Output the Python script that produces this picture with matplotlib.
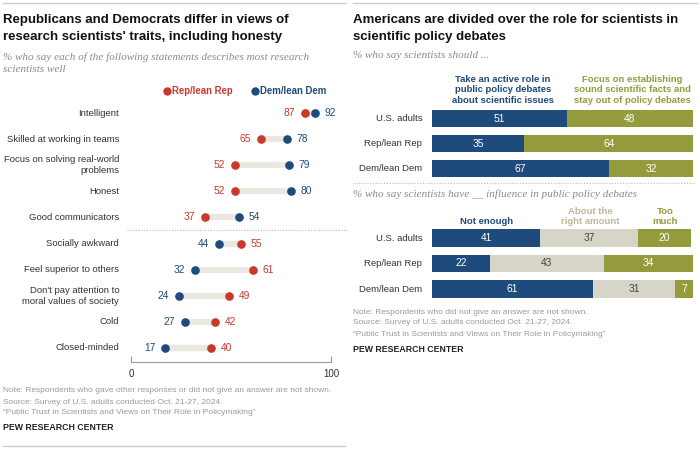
import matplotlib
matplotlib.use("Agg")
import matplotlib.pyplot as plt
from matplotlib.lines import Line2D

# --- DATA ---
traits = ["Intelligent", "Skilled at working in teams", "Focus on solving real-world\nproblems",
          "Honest", "Good communicators", "Socially awkward", "Feel superior to others",
          "Don't pay attention to\nmoral values of society", "Cold", "Closed-minded"]
rep_traits = [87, 65, 52, 52, 37, 55, 61, 49, 42, 40]
dem_traits = [92, 78, 79, 80, 54, 44, 32, 24, 27, 17]

groups = ["U.S. adults", "Rep/lean Rep", "Dem/lean Dem"]
active_role = [51, 35, 67]
stay_out = [48, 64, 32]

not_enough = [41, 22, 61]
right_amount = [37, 43, 31]
too_much = [20, 34, 7]

# --- COLORS ---
BLUE = "#1f4a7c"
RED = "#c8392b"
OLIVE = "#949b3c"
BEIGE = "#d7d5c7"
BEIGE_TXT = "#bdb89c"
LINE = "#ebe8e1"
GRAY = "#8a8a8a"
DARK = "#333333"

SANS = ["Liberation Sans", "DejaVu Sans"]
SERIF = ["Liberation Serif", "DejaVu Serif"]
plt.rcParams["font.family"] = SANS

W, H = 700, 449
fig = plt.figure(figsize=(7, 4.49), dpi=100)


def px(x, y):
    return x / W, 1 - y / H


def txt(x, y, s, **kw):
    kw.setdefault("va", "center")
    kw.setdefault("color", DARK)
    fig.text(*px(x, y), s, **kw)


def hline(x0, x1, y, **kw):
    (fx0, fy), (fx1, _) = px(x0, y), px(x1, y)
    fig.add_artist(Line2D([fx0, fx1], [fy, fy], transform=fig.transFigure, **kw))


def add_ax(x0, y0, x1, y1):
    ax = fig.add_axes([x0 / W, 1 - y1 / H, (x1 - x0) / W, (y1 - y0) / H])
    ax.axis("off")
    return ax


TITLE = dict(fontsize=9.5, fontweight="bold", color="#111111")
SUB = dict(fontsize=8.0, style="italic", color=GRAY, family=SERIF)
NOTE = dict(fontsize=6.0, color="#9a9a9a")
LAB = dict(fontsize=6.8, color=DARK)
HEAD = dict(fontsize=6.8, fontweight="bold", ha="center", linespacing=1.25)
NUM = 7.4

# ===== LEFT PANEL =====
hline(3, 345, 3, color="#cccccc", lw=1)
hline(3, 345, 446, color="#cccccc", lw=1)
txt(3, 20, "Republicans and Democrats differ in views of", **TITLE)
txt(3, 37, "research scientists' traits, including honesty", **TITLE)
txt(3, 57, "% who say each of the following statements describes most research", **SUB)
txt(3, 70, "scientists well", **SUB)

# legend
fig.add_artist(Line2D([px(167, 91)[0]], [px(167, 91)[1]], transform=fig.transFigure,
                      marker="o", ms=5, color=RED, ls=""))
txt(172, 91, "Rep/lean Rep", fontsize=6.9, fontweight="bold", color=RED)
fig.add_artist(Line2D([px(255, 91)[0]], [px(255, 91)[1]], transform=fig.transFigure,
                      marker="o", ms=5, color=BLUE, ls=""))
txt(260, 91, "Dem/lean Dem", fontsize=6.9, fontweight="bold", color=BLUE)

axd = add_ax(131, 100, 331, 362)
axd.set_xlim(0, 100)
axd.set_ylim(9.54, -0.5)
axd.axis("on")
for s in ["top", "right", "left"]:
    axd.spines[s].set_visible(False)
axd.spines["bottom"].set_color("#999999")
axd.spines["bottom"].set_linewidth(0.8)
axd.set_yticks([])
axd.set_xticks([0, 100])
axd.set_xticklabels(["0", "100"], fontsize=7.0, color=DARK)
axd.tick_params(axis="x", direction="in", length=4, color="#999999", pad=5)
axd.patch.set_visible(False)

for i, (lab, r, d) in enumerate(zip(traits, rep_traits, dem_traits)):
    axd.plot([r, d], [i, i], color=LINE, lw=4.5, solid_capstyle="butt", zorder=1)
    axd.plot(r, i, "o", color=RED, ms=5.2, zorder=3)
    axd.plot(d, i, "o", color=BLUE, ms=5.2, zorder=3)
    lo, hi = (r, d) if r < d else (d, r)
    lo_c = RED if r < d else BLUE
    hi_c = BLUE if r < d else RED
    axd.annotate(str(lo), (lo, i), xytext=(-7, 0), textcoords="offset points",
                 ha="right", va="center", fontsize=NUM, color=lo_c)
    axd.annotate(str(hi), (hi, i), xytext=(7, 0), textcoords="offset points",
                 ha="left", va="center", fontsize=NUM, color=hi_c)
    axd.annotate(lab, (0, i), xycoords=("axes fraction", "data"), xytext=(-8.5, 0),
                 textcoords="offset points", ha="right", va="center",
                 linespacing=1.25, annotation_clip=False, **LAB)
axd.axhline(4.5, xmin=-0.02, xmax=1.08, color="#bbbbbb", lw=0.8, ls=(0, (1, 1.5)), clip_on=False)

txt(3, 390, "Note: Respondents who gave other responses or did not give an answer are not shown.", **NOTE)
txt(3, 402, "Source: Survey of U.S. adults conducted Oct. 21-27, 2024.", **NOTE)
txt(3, 413, "\u201cPublic Trust in Scientists and Views on Their Role in Policymaking\u201d", **NOTE)
txt(3, 428, "PEW RESEARCH CENTER", fontsize=6.3, fontweight="bold", color="#222222")

# ===== RIGHT PANEL =====
hline(353, 697, 3, color="#cccccc", lw=1)
txt(353, 20, "Americans are divided over the role for scientists in", **TITLE)
txt(353, 37, "scientific policy debates", **TITLE)
txt(353, 56, "% who say scientists should ...", **SUB)

txt(503, 90, "Take an active role in\npublic policy debates\nabout scientific issues", color=BLUE, **HEAD)
txt(632, 90, "Focus on establishing\nsound scientific facts and\nstay out of policy debates",
    color=OLIVE, **HEAD)

ax1 = add_ax(432, 106.5, 696, 181.5)
ax1.set_xlim(0, 100)
ax1.set_ylim(2.5, -0.5)
y = range(len(groups))
ax1.barh(y, active_role, height=0.68, color=BLUE)
ax1.barh(y, stay_out, left=active_role, height=0.68, color=OLIVE)
for i, (a, b) in enumerate(zip(active_role, stay_out)):
    ax1.text(a / 2, i, str(a), ha="center", va="center", color="white", fontsize=NUM)
    ax1.text(a + b / 2, i, str(b), ha="center", va="center", color="white", fontsize=NUM)
    ax1.annotate(groups[i], (0, i), xytext=(-7, 0), textcoords="offset points", ha="right",
                 va="center", annotation_clip=False, **LAB)

hline(353, 695, 183, color="#bbbbbb", lw=0.8, ls=(0, (1, 1.5)))
txt(353, 194, "% who say scientists have __ influence in public policy debates", **SUB)

txt(487, 222, "Not enough", color=BLUE, **HEAD)
txt(590, 216.5, "About the\nright amount", color=BEIGE_TXT, **HEAD)
txt(665, 216.5, "Too\nmuch", color=OLIVE, **HEAD)

ax2 = add_ax(432, 225.25, 696, 301.75)
ax2.set_xlim(0, 100)
ax2.set_ylim(2.5, -0.5)
left2 = [a + b for a, b in zip(not_enough, right_amount)]
ax2.barh(y, not_enough, height=0.67, color=BLUE)
ax2.barh(y, right_amount, left=not_enough, height=0.67, color=BEIGE)
ax2.barh(y, too_much, left=left2, height=0.67, color=OLIVE)
for i in y:
    a, b, c = not_enough[i], right_amount[i], too_much[i]
    ax2.text(a / 2, i, str(a), ha="center", va="center", color="white", fontsize=NUM)
    ax2.text(a + b / 2, i, str(b), ha="center", va="center", color="#444444", fontsize=NUM)
    ax2.text(a + b + c / 2, i, str(c), ha="center", va="center", color="white", fontsize=NUM)
    ax2.annotate(groups[i], (0, i), xytext=(-7, 0), textcoords="offset points", ha="right",
                 va="center", annotation_clip=False, **LAB)

txt(353, 312, "Note: Respondents who did not give an answer are not shown.", **NOTE)
txt(353, 323, "Source: Survey of U.S. adults conducted Oct. 21-27, 2024.", **NOTE)
txt(353, 334, "\u201cPublic Trust in Scientists and Views on Their Role in Policymaking\u201d", **NOTE)
txt(353, 349, "PEW RESEARCH CENTER", fontsize=6.3, fontweight="bold", color="#222222")

fig.savefig("out.png", dpi=100, facecolor="white")
